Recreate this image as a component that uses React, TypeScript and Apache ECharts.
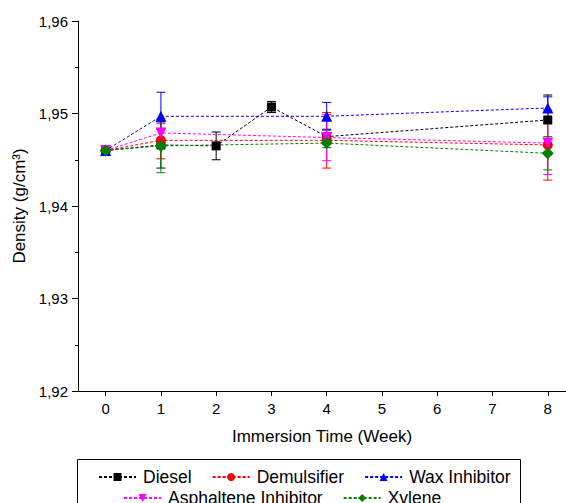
import React, { useEffect, useRef } from "react";
import * as echarts from "echarts";

const weeksDiesel = [0, 1, 2, 3, 4, 8];
const weeksOther = [0, 1, 4, 8];

const dieselValues = [1.946, 1.9466, 1.9465, 1.9507, 1.9475, 1.9493];
const dieselErr = [0.0002, 0.0025, 0.0015, 0.0006, 0.0008, 0.0027];

const demulsifierValues = [1.946, 1.9471, 1.9471, 1.9466];
const demulsifierErr = [0.0002, 0.002, 0.003, 0.0038];

const waxValues = [1.946, 1.9497, 1.9497, 1.9506];
const waxErr = [0.0002, 0.0026, 0.0015, 0.0012];

const asphalteneValues = [1.946, 1.9479, 1.9474, 1.9468];
const asphalteneErr = [0.0002, 0.001, 0.0025, 0.0034];

const xyleneValues = [1.946, 1.9465, 1.9468, 1.9457];
const xyleneErr = [0.0002, 0.0029, 0.0005, 0.0018];

const xTicks = [0, 1, 2, 3, 4, 5, 6, 7, 8];

const FONT = "'Liberation Sans', Arial, sans-serif";

type SeriesDef = {
  name: string;
  weeks: number[];
  values: number[];
  err: number[];
  color: string;
  symbol: string;
  symbolSize: number;
  symbolRotate?: number;
};

const seriesDefs: SeriesDef[] = [
  { name: "Diesel", weeks: weeksDiesel, values: dieselValues, err: dieselErr, color: "#000000", symbol: "rect", symbolSize: 9 },
  { name: "Demulsifier", weeks: weeksOther, values: demulsifierValues, err: demulsifierErr, color: "#ff0000", symbol: "circle", symbolSize: 10 },
  { name: "Wax Inhibitor", weeks: weeksOther, values: waxValues, err: waxErr, color: "#0000ff", symbol: "triangle", symbolSize: 11 },
  { name: "Asphaltene Inhibitor", weeks: weeksOther, values: asphalteneValues, err: asphalteneErr, color: "#ff00ff", symbol: "triangle", symbolSize: 11, symbolRotate: 180 },
  { name: "Xylene", weeks: weeksOther, values: xyleneValues, err: xyleneErr, color: "#008000", symbol: "diamond", symbolSize: 12 },
];

export default function App() {
  const ref = useRef<HTMLDivElement>(null);

  useEffect(() => {
    if (!ref.current) return;
    const chart = echarts.init(ref.current, undefined, { renderer: "svg" });

    const series: any[] = [];
    seriesDefs.forEach((d) => {
      const color = d.color;
      series.push({
        type: "custom",
        name: d.name + " error",
        silent: true,
        data: d.weeks.map((w, i) => [w, d.values[i] - d.err[i], d.values[i] + d.err[i]]),
        encode: { x: 0, y: [1, 2] },
        renderItem: (params: any, api: any) => {
          const x = api.value(0);
          const lo = api.value(1);
          const hi = api.value(2);
          const p1 = api.coord([x, hi]);
          const p2 = api.coord([x, lo]);
          const hw = 4.5;
          const st = { stroke: color, lineWidth: 1, fill: "none" };
          return {
            type: "group",
            children: [
              { type: "line", shape: { x1: p1[0], y1: p1[1], x2: p2[0], y2: p2[1] }, style: st },
              { type: "line", shape: { x1: p1[0] - hw, y1: p1[1], x2: p1[0] + hw, y2: p1[1] }, style: st },
              { type: "line", shape: { x1: p2[0] - hw, y1: p2[1], x2: p2[0] + hw, y2: p2[1] }, style: st },
            ],
          };
        },
      });
      series.push({
        type: "line",
        name: d.name,
        data: d.weeks.map((w, i) => [w, d.values[i]]),
        symbol: d.symbol,
        symbolSize: d.symbolSize,
        symbolRotate: d.symbolRotate || 0,
        showSymbol: true,
        color: color,
        itemStyle: { color: color },
        lineStyle: { color: color, width: 1, type: [3, 2] },
      });
    });

    const legendText = { fontSize: 17.5, color: "#000", fontFamily: FONT, padding: [0, 0, 0, 2] };

    const option: any = {
      animation: false,
      backgroundColor: "#ffffff",
      textStyle: { fontFamily: FONT },
      grid: { left: 78, right: 0, top: 21, bottom: 112, outerBoundsMode: "none", containLabel: false },
      xAxis: {
        type: "value",
        min: -0.5,
        max: 8.33,
        name: "Immersion Time (Week)",
        nameLocation: "middle",
        nameGap: 37,
        nameTextStyle: { fontSize: 17, color: "#000", fontFamily: FONT },
        axisLine: { show: true, onZero: false, lineStyle: { color: "#000", width: 1 } },
        axisTick: { show: true, length: 5, customValues: xTicks, lineStyle: { color: "#000" } },
        axisLabel: { customValues: xTicks, fontSize: 15, color: "#000", margin: 10, fontFamily: FONT },
        splitLine: { show: false },
      },
      yAxis: {
        type: "value",
        min: 1.92,
        max: 1.96,
        interval: 0.01,
        name: "Density (g/cm³)",
        nameLocation: "middle",
        nameGap: 47,
        nameTextStyle: { fontSize: 17, color: "#000", fontFamily: FONT },
        axisLine: { show: true, onZero: false, lineStyle: { color: "#000", width: 1 } },
        axisTick: { show: true, length: 6, lineStyle: { color: "#000" } },
        minorTick: { show: true, splitNumber: 2, length: 3, lineStyle: { color: "#000" } },
        axisLabel: {
          fontSize: 15,
          color: "#000",
          margin: 10,
          fontFamily: FONT,
          formatter: (v: number) => v.toFixed(2).replace(".", ","),
        },
        splitLine: { show: false },
      },
      legend: [
        {
          data: ["Diesel", "Demulsifier", "Wax Inhibitor"],
          left: 98,
          top: 468,
          padding: 0,
          itemWidth: 37,
          itemHeight: 10,
          itemGap: 20,
          textStyle: legendText,
        },
        {
          data: ["Asphaltene Inhibitor", "Xylene"],
          left: 123,
          top: 489,
          padding: 0,
          itemWidth: 37,
          itemHeight: 10,
          itemGap: 20,
          textStyle: legendText,
        },
      ],
      graphic: [
        {
          type: "rect",
          shape: { x: 77.5, y: 459.5, width: 443, height: 60 },
          style: { stroke: "#000", lineWidth: 1, fill: "none" },
          silent: true,
        },
      ],
      series,
    };

    chart.setOption(option);
    return () => chart.dispose();
  }, []);

  return (
    <div
      ref={ref}
      style={{ position: "fixed", left: 0, top: 0, width: 566, height: 503, background: "#fff" }}
    />
  );
}
